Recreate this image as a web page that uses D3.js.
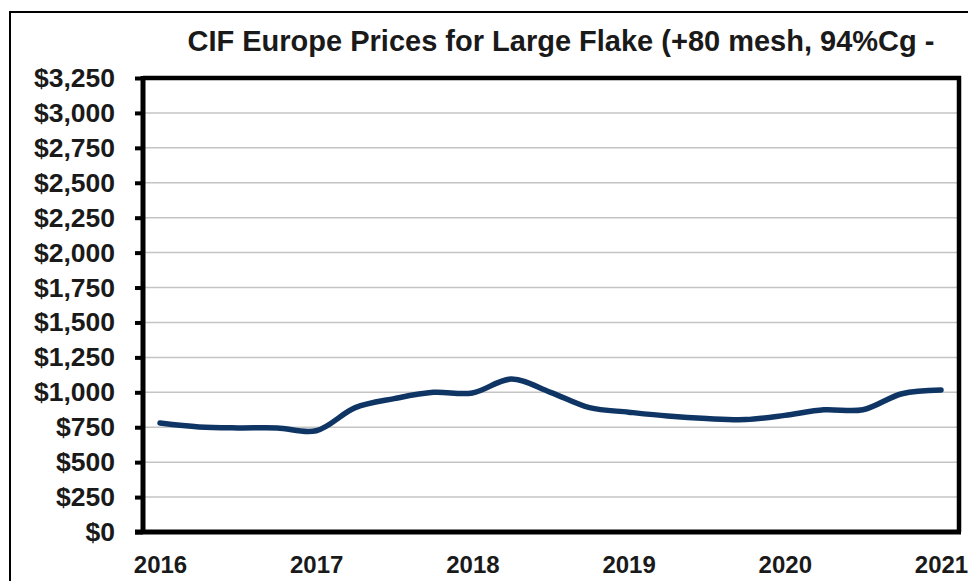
<!DOCTYPE html>
<html><head><meta charset="utf-8">
<script src="https://cdn.jsdelivr.net/npm/d3@7"></script>
<style>body{margin:0;background:#fff}svg{display:block}</style>
</head><body>
<script>
const title = "CIF Europe Prices for Large Flake (+80 mesh, 94%Cg -";
const years = [2016, 2017, 2018, 2019, 2020, 2021];
const dates = [2016.0,2016.25,2016.5,2016.75,2017.0,2017.25,2017.5,2017.75,2018.0,2018.25,2018.5,2018.75,2019.0,2019.25,2019.5,2019.75,2020.0,2020.25,2020.5,2020.75,2021.0];
const prices = [780,752,745,745,725,890,955,1000,995,1095,1000,890,858,830,812,805,835,875,875,990,1016];
const yTicks = [0,250,500,750,1000,1250,1500,1750,2000,2250,2500,2750,3000,3250];

const W = 968, H = 581;
const svg = d3.select("body").append("svg").attr("width", W).attr("height", H);
svg.append("rect").attr("width", W).attr("height", H).attr("fill", "#fff");
// outer frame
svg.append("rect").attr("x", 10).attr("y", 12).attr("width", 1000).attr("height", 700)
  .attr("fill", "none").attr("stroke", "#000").attr("stroke-width", 2);

const L = 143, R = 959, T = 78, B = 532;
const x = d3.scaleLinear().domain([2016, 2021]).range([160, 941]);
const y = d3.scaleLinear().domain([0, 3250]).range([B, T]);

// gridlines
svg.append("g").selectAll("line").data(yTicks.filter(d => d > 0 && d < 3250)).join("line")
  .attr("x1", L).attr("x2", R).attr("y1", d => y(d)).attr("y2", d => y(d))
  .attr("stroke", "#c4c4c4").attr("stroke-width", 1.5);

// plot border top/right
svg.append("path").attr("d", `M${L},${T}H${R}V${B}`).attr("fill", "none")
  .attr("stroke", "#000").attr("stroke-width", 4.5);

// y axis
const yAxis = d3.axisLeft(y).tickValues(yTicks).tickSize(8).tickPadding(20)
  .tickFormat(d => "$" + d3.format(",")(d));
const gy = svg.append("g").attr("transform", `translate(${L},0)`).call(yAxis);
gy.select(".domain").attr("stroke", "#000").attr("stroke-width", 5).attr("d", `M0,${T-2}V${B+2}`);
gy.selectAll(".tick line").attr("stroke", "#000").attr("stroke-width", 4);
gy.selectAll(".tick text").attr("font-family", "Liberation Sans, Arial, sans-serif")
  .attr("font-weight", "bold").attr("font-size", 26.5).attr("fill", "#1a1a1a");

// x axis
const xAxis = d3.axisBottom(x).tickValues(years).tickSize(0).tickPadding(24).tickFormat(d3.format("d"));
const gx = svg.append("g").attr("transform", `translate(0,${B})`).call(xAxis);
gx.select(".domain").attr("stroke", "#000").attr("stroke-width", 5).attr("d", `M${L-8},0H${R+2}`);
gx.selectAll(".tick text").attr("font-family", "Liberation Sans, Arial, sans-serif")
  .attr("font-weight", "bold").attr("font-size", 24).attr("fill", "#1a1a1a");

// line
const line = d3.line().x((d, i) => x(dates[i])).y(d => y(d)).curve(d3.curveCatmullRom.alpha(0.5));
svg.append("path").datum(prices).attr("d", line).attr("fill", "none")
  .attr("stroke", "#0f3565").attr("stroke-width", 5.5).attr("stroke-linecap", "round");

// title
svg.append("text").attr("x", 561).attr("y", 51).attr("text-anchor", "middle")
  .attr("font-family", "Liberation Sans, Arial, sans-serif").attr("font-weight", "bold")
  .attr("font-size", 29).attr("fill", "#1a1a1a").text(title);
</script>
</body></html>
